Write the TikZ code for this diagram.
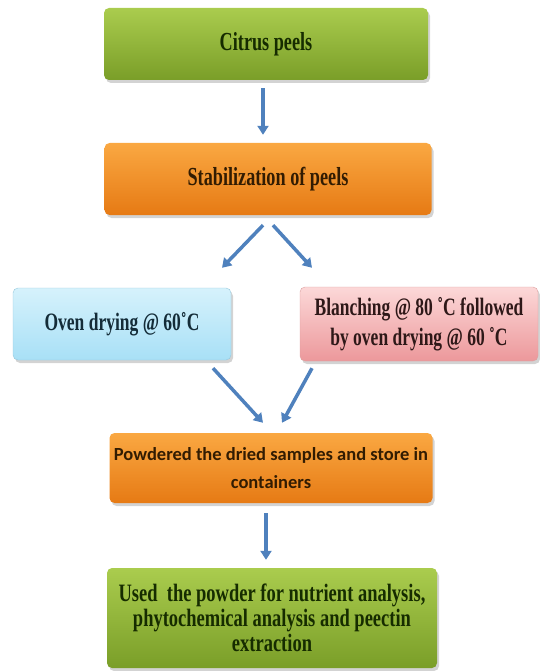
\documentclass[tikz,border=0pt]{standalone}
\usepackage{fontspec}
\setmainfont{Liberation Serif}
\newfontfamily\boxserif[FakeStretch=0.7]{Liberation Serif}
\newfontfamily\boxserifw[FakeStretch=0.74]{Liberation Serif}
\newfontfamily\boxsans{Carlito}
\usepackage{tikz}
\usetikzlibrary{arrows.meta,shapes,positioning,shadows,calc}
\definecolor{arrowblue}{RGB}{79,129,189}
\definecolor{greentop}{RGB}{170,204,78}
\definecolor{greenbot}{RGB}{122,158,40}
\definecolor{orangetop}{RGB}{250,168,66}
\definecolor{orangebot}{RGB}{230,122,20}
\definecolor{bluetop}{RGB}{214,242,252}
\definecolor{bluebot}{RGB}{168,224,246}
\definecolor{pinktop}{RGB}{252,216,216}
\definecolor{pinkbot}{RGB}{236,152,155}
\tikzset{
flownode/.style = {rectangle, rounded corners=5pt, align=center, inner sep=2pt,
drop shadow={opacity=0.35, shadow xshift=2pt, shadow yshift=-3pt}},
flow_g/.style = {flownode, top color=greentop, bottom color=greenbot, text={rgb,255:red,22;green,44;blue,0}},% vert, debut et fin
flow_o/.style = {flownode, top color=orangetop, bottom color=orangebot, text={rgb,255:red,50;green,28;blue,2}},% orange, etapes
flow_b/.style = {flownode, top color=bluetop, bottom color=bluebot, draw={rgb,255:red,150;green,200;blue,220}, text={rgb,255:red,20;green,44;blue,56}},% bleu, sechage
flow_p/.style = {flownode, top color=pinktop, bottom color=pinkbot, draw={rgb,255:red,220;green,160;blue,160}, text={rgb,255:red,46;green,24;blue,24}},% rose, blanchiment
flow_a/.style = {draw=arrowblue, line width=3.5pt, -{Triangle[width=11pt,length=9pt]}}% fleche
}
\begin{document}
\begin{tikzpicture}[x=1pt, y=-1pt]
	\useasboundingbox (0,0) rectangle (540,671);
	\node [flow_g, minimum width=324pt, minimum height=72pt, font=\boxserif\bfseries\fontsize{26}{30}\selectfont] (peels) at (266,44) {Citrus peels};
	\node [flow_o, minimum width=327pt, minimum height=72pt, font=\boxserif\bfseries\fontsize{26}{30}\selectfont] (stab) at (268,179) {Stabilization of peels};
	\node [flow_b, minimum width=218pt, minimum height=72pt, font=\boxserif\bfseries\fontsize{25}{30}\selectfont] (oven) at (122,324) {Oven drying @ 60˚C};
	\node [flow_p, minimum width=238pt, minimum height=74pt, font=\boxserif\bfseries\fontsize{25}{30}\selectfont] (blanch) at (419,324) {Blanching @ 80 ˚C followed\\by oven drying @ 60 ˚C};
	\node [flow_o, minimum width=323pt, minimum height=70pt, font=\boxsans\bfseries\fontsize{18.5}{28}\selectfont] (powder) at (271,468) {Powdered the dried samples and store in\\containers};
	\node [flow_g, minimum width=330pt, minimum height=100pt, font=\boxserifw\bfseries\fontsize{25}{25}\selectfont] (used) at (272,618) {Used\ \ the powder for nutrient analysis,\\phytochemical analysis and peectin\\extraction};
	% fleches
	\draw [flow_a] ([xshift=-3pt, yshift=-8pt]peels.south) -- ([xshift=-5pt, yshift=8pt]stab.north);
	\draw [flow_a] ([xshift=-5pt, yshift=-10pt]stab.south) -- ([xshift=100pt, yshift=20pt]oven.north);
	\draw [flow_a] ([xshift=5pt, yshift=-10pt]stab.south) -- ([xshift=-107pt, yshift=19pt]blanch.north);
	\draw [flow_a] ([xshift=91pt, yshift=-8pt]oven.south) -- ([xshift=-8pt, yshift=10pt]powder.north);
	\draw [flow_a] ([xshift=-107pt, yshift=-7pt]blanch.south) -- ([xshift=11pt, yshift=10pt]powder.north);
	\draw [flow_a] ([xshift=-5pt, yshift=-10pt]powder.south) -- ([xshift=-6pt, yshift=8pt]used.north);
\end{tikzpicture}
\end{document}
